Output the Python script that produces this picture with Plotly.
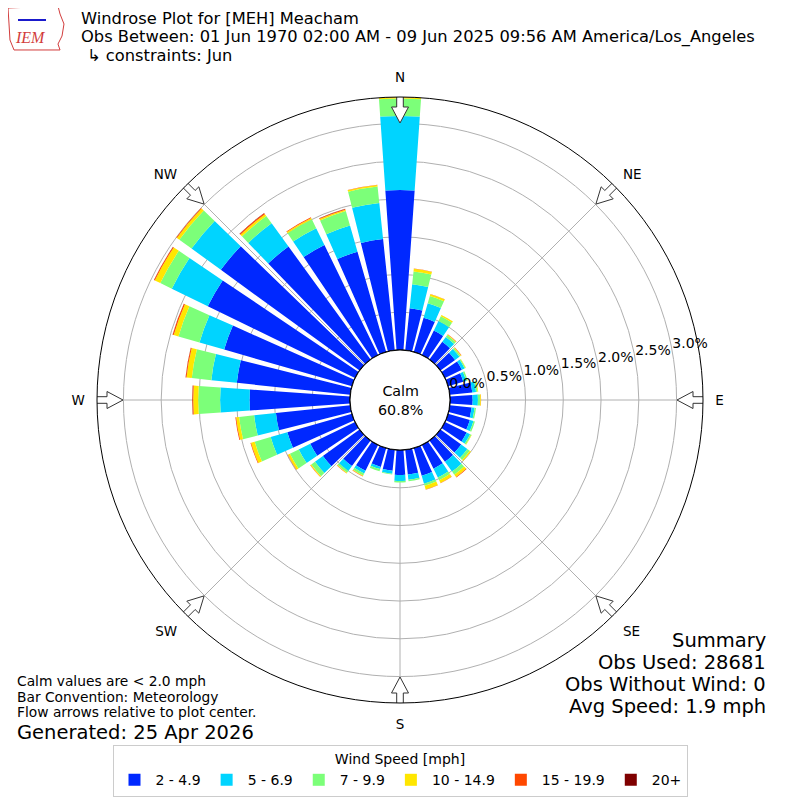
import numpy as np
import plotly.graph_objects as go

# Wind directions (deg, meteorological) and speed bins
directions = list(range(0, 360, 10))
speed_bins = ["2 - 4.9", "5 - 6.9", "7 - 9.9", "10 - 14.9", "15 - 19.9", "20+"]
bin_colors = ["#0028ff", "#00d4ff", "#7cff79", "#ffe600", "#ff4800", "#7f0000"]

# Frequency (% of obs) per direction, one list per speed bin
freq_2_5 = [2.12, 0.56, 0.47, 0.36, 0.29, 0.24, 0.25, 0.21, 0.30, 0.30, 0.29, 0.30,
            0.32, 0.34, 0.35, 0.35, 0.38, 0.33, 0.33, 0.28, 0.26, 0.38, 0.42, 0.60,
            0.66, 0.89, 0.99, 1.33, 1.51, 1.76, 2.17, 2.27, 1.85, 1.62, 1.38, 1.48]
freq_5_7 = [0.98, 0.32, 0.20, 0.14, 0.08, 0.07, 0.04, 0.04, 0.05, 0.07, 0.04, 0.05,
            0.05, 0.10, 0.16, 0.13, 0.11, 0.07, 0.08, 0.04, 0.03, 0.04, 0.08, 0.13,
            0.17, 0.23, 0.29, 0.39, 0.34, 0.34, 0.53, 0.48, 0.38, 0.25, 0.36, 0.48]
freq_7_10 = [0.23, 0.17, 0.10, 0.07, 0.03, 0.02, 0.015, 0.02, 0.02, 0.03, 0.02, 0.02,
             0.02, 0.04, 0.05, 0.04, 0.03, 0.02, 0.02, 0.01, 0.03, 0.03, 0.03, 0.06,
             0.13, 0.22, 0.20, 0.29, 0.26, 0.29, 0.17, 0.20, 0.12, 0.13, 0.20, 0.22]
freq_10_15 = [0.02, 0.035, 0.025, 0.02, 0.01, 0.01, 0.005, 0.0, 0.01, 0.01, 0.0, 0.0,
              0.005, 0.02, 0.04, 0.04, 0.05, 0.0, 0.0, 0.0, 0.0, 0.01, 0.01, 0.015,
              0.03, 0.05, 0.04, 0.066, 0.07, 0.065, 0.08, 0.04, 0.03, 0.02, 0.02, 0.02]
freq_15_20 = [0.003, 0.004, 0.002, 0.002, 0.005, 0.005, 0.0, 0.0, 0.0, 0.002, 0.0, 0.0,
              0.0, 0.0, 0.008, 0.005, 0.003, 0.0, 0.0, 0.0, 0.0, 0.005, 0.002, 0.003,
              0.005, 0.008, 0.01, 0.012, 0.012, 0.015, 0.012, 0.01, 0.015, 0.01, 0.01, 0.005]
freq_20p = [0.0, 0.0, 0.0, 0.0, 0.0, 0.0, 0.0, 0.0, 0.0, 0.0, 0.0, 0.0,
            0.0, 0.0, 0.0, 0.0, 0.0, 0.0, 0.0, 0.0, 0.0, 0.0, 0.0, 0.0,
            0.0, 0.0, 0.0, 0.003, 0.002, 0.002, 0.002, 0.0, 0.003, 0.0, 0.002, 0.0]
all_freqs = [freq_2_5, freq_5_7, freq_7_10, freq_10_15, freq_15_20, freq_20p]

compass_angles = [0, 45, 90, 135, 180, 225, 270, 315]
compass_labels = ["N", "NE", "E", "SE", "S", "SW", "W", "NW"]
ring_values = [0.0, 0.5, 1.0, 1.5, 2.0, 2.5, 3.0]
ring_labels = ["0.0%", "0.5%", "1.0%", "1.5%", "2.0%", "2.5%", "3.0%"]
calm_pct = 60.8

FONT = "DejaVu Sans"
OFF = 8          # page body margin
W = H = 792
CX = CY = 400 - OFF
R_OUT = 303      # px radius of the polar area
R_CALM = 50      # px radius of calm circle
R_MAX = 3.35
px_per = (R_OUT - R_CALM) / R_MAX


def px(xp, yp):
    # page pixel -> paper coords
    return (xp - OFF) / W, 1 - (yp - OFF) / H


def arrow_outline(theta0):
    # hollow flow arrow, local (distance from centre, sideways) in px
    pts = [(307, -3.3), (293, -3.3), (293, -8.5), (277, 0), (293, 8.5),
           (293, 3.3), (307, 3.3), (307, -3.3)]
    rs, ts = [], []
    for d, s in pts:
        rs.append((np.hypot(d, s) - R_CALM) / px_per)
        ts.append(theta0 + np.degrees(np.arctan2(s, d)))
    return rs, ts


fig = go.Figure()

for name, color, vals in zip(speed_bins, bin_colors, all_freqs):
    fig.add_trace(go.Barpolar(
        r=vals, theta=directions, width=8, name=name,
        marker=dict(color=color, line=dict(width=0)),
    ))

# calm circle
circ_t = np.linspace(0, 360, 361)
fig.add_trace(go.Scatterpolar(
    r=np.zeros_like(circ_t), theta=circ_t, mode="lines",
    line=dict(color="black", width=1.2), showlegend=False, hoverinfo="skip",
))

# flow arrows
for ang in compass_angles:
    rs, ts = arrow_outline(ang)
    fig.add_trace(go.Scatterpolar(
        r=rs, theta=ts, mode="lines", fill="toself", fillcolor="white",
        line=dict(color="#333333", width=1), showlegend=False,
        hoverinfo="skip", cliponaxis=False,
    ))

# ring labels
fig.add_trace(go.Scatterpolar(
    r=ring_values, theta=[80] * len(ring_values), mode="text",
    text=ring_labels, textposition="top right",
    textfont=dict(family=FONT, size=14, color="black"),
    showlegend=False, hoverinfo="skip", cliponaxis=False,
))

dom_x = [(CX - R_OUT) / W, (CX + R_OUT) / W]
dom_y = [1 - (CY + R_OUT) / H, 1 - (CY - R_OUT) / H]
leg_x, leg_y = px(400, 745)
fig.update_layout(
    width=W, height=H,
    margin=dict(l=0, r=0, t=0, b=0),
    paper_bgcolor="white",
    font=dict(family=FONT, size=14, color="black"),
    polar=dict(
        domain=dict(x=dom_x, y=dom_y),
        bgcolor="white",
        hole=R_CALM / R_OUT,
        barmode="stack",
        angularaxis=dict(
            rotation=90, direction="clockwise",
            tickmode="array", tickvals=compass_angles, ticktext=compass_labels,
            ticks="outside", ticklen=9, tickcolor="rgba(0,0,0,0)",
            tickfont=dict(family=FONT, size=13.5),
            showline=True, linecolor="black", linewidth=1,
            showgrid=True, gridcolor="#b0b0b0", gridwidth=1,
            layer="above traces",
        ),
        radialaxis=dict(
            range=[0, R_MAX], tickmode="array", tickvals=ring_values[1:],
            showticklabels=False, ticks="", showline=False,
            showgrid=True, gridcolor="#b0b0b0", gridwidth=1,
            layer="above traces",
        ),
    ),
    legend=dict(
        orientation="h", x=leg_x, xanchor="center", y=leg_y, yanchor="top",
        title=dict(text="Wind Speed [mph]", side="top center", font=dict(size=14)),
        font=dict(size=14), bordercolor="#cccccc", borderwidth=1,
        bgcolor="white", itemwidth=32,
    ),
)


def note(text, xp, yp, size, anchor="left", color="black", family=FONT):
    x, y = px(xp, yp)
    fig.add_annotation(
        text=text, x=x, y=y, xref="paper", yref="paper",
        xanchor=anchor, yanchor="middle", showarrow=False,
        font=dict(family=family, size=size, color=color),
    )


# titles
note("Windrose Plot for [MEH] Meacham", 79, 18.5, 16.3)
note("Obs Between: 01 Jun 1970 02:00 AM - 09 Jun 2025 09:56 AM America/Los_Angeles", 79, 37, 16.3)
note("\u21b3 constraints: Jun", 85, 55.5, 16.3)

# calm
note("Calm<br>%.1f%%" % calm_pct, 400, 400, 14.3, anchor="center")

# footnotes
note("Calm values are < 2.0 mph", 15, 680.5, 13.8)
note("Bar Convention: Meteorology", 15, 696.5, 13.8)
note("Flow arrows relative to plot center.", 15, 712, 13.8)
note("Generated: 25 Apr 2026", 15, 732, 19.5)

# summary
note("Summary", 768, 640, 19.5, anchor="right")
note("Obs Used: 28681", 768, 662, 19.5, anchor="right")
note("Obs Without Wind: 0", 768, 684, 19.5, anchor="right")
note("Avg Speed: 1.9 mph", 768, 706, 19.5, anchor="right")

# IEM logo (rough)
iowa = [(8, 8), (58, 6), (60, 14), (64, 24), (62, 36), (58, 44), (60, 50), (14, 50), (10, 40), (9, 24)]
path = "M " + " L ".join("%.4f,%.4f" % px(x, y) for x, y in iowa) + " Z"
fig.add_shape(type="path", path=path, xref="paper", yref="paper",
              line=dict(color="#d23c3c", width=1))
lx0, ly0 = px(18, 20)
lx1, ly1 = px(46, 20)
fig.add_shape(type="line", x0=lx0, x1=lx1, y0=ly0, y1=ly1,
              xref="paper", yref="paper", line=dict(color="#1a1acc", width=2))
note("<i>IEM</i>", 30, 38, 16, anchor="center", color="#d23c3c", family="Liberation Serif")

fig.write_html("out.html")
